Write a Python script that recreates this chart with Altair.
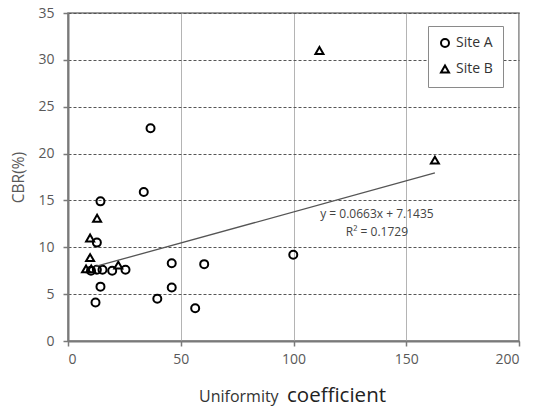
import altair as alt
import pandas as pd

# Site A (circles)
site_a_x = [14.4, 12.8, 10.2, 12.8, 15.3, 19.6, 25.5, 14.4, 12.2, 39.6, 46.0, 46.0, 60.4, 56.4, 36.6, 33.6, 99.9]
site_a_y = [14.9, 10.5, 7.5, 7.6, 7.6, 7.5, 7.6, 5.8, 4.1, 4.5, 8.3, 5.7, 8.2, 3.5, 22.7, 15.9, 9.2]
# Site B (triangles)
site_b_x = [111.5, 162.7, 12.9, 9.8, 9.8, 8.0, 10.3, 22.3]
site_b_y = [31.0, 19.3, 13.1, 11.0, 8.9, 7.7, 7.7, 8.1]

# Trend line y = 0.0663x + 7.1435
slope = 0.0663
intercept = 7.1435
trend_x = [11.9, 162.7]
eq_text = ["y = 0.0663x  + 7.1435", "R² = 0.1729"]
eq_x = [137.0, 137.0]
eq_y = [13.6, 11.6]

x_ticks = [0, 50, 100, 150, 200]
y_ticks = [0, 5, 10, 15, 20, 25, 30, 35]

FONT = "Open Sans"

pts = pd.DataFrame({
    "x": site_a_x + site_b_x,
    "y": site_a_y + site_b_y,
    "site": ["Site A"] * len(site_a_x) + ["Site B"] * len(site_b_x),
})
trend = pd.DataFrame({"x": trend_x, "y": [slope * v + intercept for v in trend_x]})
eq = pd.DataFrame({"x": eq_x, "y": eq_y, "t": eq_text})

xs = alt.Scale(domain=[0, 200], nice=False)
ys = alt.Scale(domain=[0, 35], nice=False)

xaxis = alt.Axis(values=x_ticks, grid=True, gridColor="#b4b4b4", gridWidth=1,
                 domainColor="#7a7a7a", domainWidth=2, tickColor="#7a7a7a", tickSize=5,
                 tickWidth=1.5, labelFontSize=14, labelColor="#595959", labelFont=FONT,
                 labelPadding=6, title=None)
yaxis = alt.Axis(values=y_ticks, grid=True, gridColor="#555555", gridDash=[3, 2], gridWidth=1,
                 domainColor="#7a7a7a", domainWidth=2, tickColor="#7a7a7a", tickSize=5,
                 tickWidth=1.5, labelFontSize=14, labelColor="#595959", labelFont=FONT,
                 labelPadding=9, title="CBR(%)", titleFontSize=15.5, titleColor="#595959",
                 titleFont=FONT, titleFontWeight="normal", titlePadding=11)

points = alt.Chart(pts).mark_point(filled=False, strokeWidth=2, opacity=1).encode(
    x=alt.X("x:Q", scale=xs, axis=xaxis),
    y=alt.Y("y:Q", scale=ys, axis=yaxis),
    shape=alt.Shape("site:N", scale=alt.Scale(domain=["Site A", "Site B"], range=["circle", "triangle-up"]),
                    legend=alt.Legend(title=None, orient="none", legendX=360, legendY=13,
                                      strokeColor="#8a8a8a", fillColor="white", padding=10,
                                      symbolSize=64, symbolStrokeWidth=2, symbolStrokeColor="black",
                                      symbolFillColor="transparent", labelFontSize=14,
                                      labelFont=FONT, labelColor="#333333", labelOffset=4,
                                      rowPadding=10)),
    size=alt.value(64),
    color=alt.value("black"),
)

line = alt.Chart(trend).mark_line(color="#555555", strokeWidth=1.3).encode(
    x=alt.X("x:Q", scale=xs), y=alt.Y("y:Q", scale=ys)
)

eqs = alt.Chart(eq).mark_text(fontSize=12, font=FONT, color="#444444", align="center").encode(
    x=alt.X("x:Q", scale=xs), y=alt.Y("y:Q", scale=ys), text="t:N"
)

t1 = alt.Chart(pd.DataFrame({"t": ["Uniformity"]})).mark_text(
    fontSize=16, font=FONT, color="#333333", align="left", baseline="alphabetic"
).encode(x=alt.value(131), y=alt.value(389), text="t:N")
t2 = alt.Chart(pd.DataFrame({"t": ["coefficient"]})).mark_text(
    fontSize=20.5, font=FONT, color="#222222", align="left", baseline="alphabetic"
).encode(x=alt.value(219), y=alt.value(389), text="t:N")

chart = alt.layer(points, line, eqs, t1, t2).properties(
    width=451, height=328,
    padding={"left": 68, "top": 13, "right": 19, "bottom": 70},
    autosize="none",
    background="white",
).configure_view(stroke="#7a7a7a", strokeWidth=1.5)

chart.save("out.html", embed_options={"renderer": "svg", "actions": False})
